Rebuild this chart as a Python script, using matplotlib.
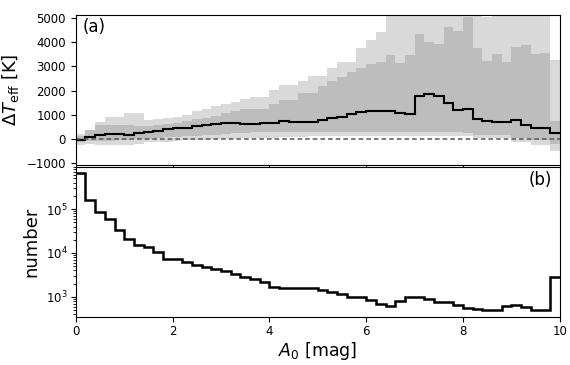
import numpy as np
import matplotlib
matplotlib.use('Agg')
import matplotlib.pyplot as plt

# == DATA ==
# extinction bins, 0.2 mag wide
edges = np.linspace(0, 10, 51)

# (a) temperature offset per bin [K]
median = [-40, 70, 165, 210, 210, 150, 250, 290, 330, 400,
          460, 460, 520, 565, 605, 650, 650, 630, 630, 660,
          660, 740, 710, 710, 710, 760, 840, 920, 1010, 1110,
          1130, 1130, 1160, 1080, 1030, 1760, 1850, 1760, 1475, 1200,
          1225, 820, 745, 700, 700, 760, 575, 460, 460, 250]
inner_hi = [120, 350, 550, 550, 550, 550, 520, 520, 580, 600,
            650, 720, 800, 870, 950, 1050, 1130, 1225, 1225, 1225,
            1430, 1620, 1620, 1890, 1890, 2170, 2390, 2550, 2760, 2950,
            3090, 3170, 3470, 3130, 3470, 4360, 4020, 3950, 4620, 4470,
            5030, 3750, 3230, 3500, 3170, 3790, 3880, 3500, 3560, 715]
inner_lo = [-130, -110, -100, -80, -60, -40, -20, 0, 30, 60,
            80, 100, 130, 150, 170, 190, 230, 250, 260, 270,
            270, 280, 280, 290, 290, 290, 290, 290, 290, 290,
            290, 290, 290, 290, 290, 290, 280, 280, 270, 260,
            250, 160, 160, 160, 160, 40, 40, -50, -50, -200]
outer_hi = [200, 360, 690, 900, 920, 1050, 1050, 780, 830, 860,
            900, 1000, 1150, 1250, 1350, 1450, 1540, 1640, 1720, 1720,
            2020, 2230, 2230, 2400, 2620, 2620, 2920, 3190, 3190, 3750,
            4100, 4430, 6000, 6000, 6000, 6000, 6000, 6000, 6000, 6000,
            6000, 6000, 5060, 6000, 6000, 6000, 6000, 6000, 6000, 3260]
outer_lo = [-250, -230, -250, -280, -280, -280, -220, -150, -130, -120,
            -80, -60, -50, -40, -30, -20, 0, 20, 30, 40,
            50, 60, 60, 80, 100, 100, 110, 120, 130, 130,
            130, 130, 130, 130, 130, 130, 130, 130, 130, 130,
            130, 50, 50, 50, 50, -120, -120, -280, -280, -500]

# (b) number of stars per bin
counts = [6.5e5, 1.6e5, 8.7e4, 6.1e4, 3.3e4, 2.1e4, 1.5e4, 1.38e4, 1.07e4, 7.3e3,
          7.3e3, 6.3e3, 5.3e3, 4.7e3, 4.2e3, 3.8e3, 3.3e3, 2.9e3, 2.5e3, 2.2e3,
          1.7e3, 1.6e3, 1.6e3, 1.6e3, 1.55e3, 1.45e3, 1.26e3, 1.15e3, 1.0e3, 1.0e3,
          850, 680, 630, 800, 980, 980, 910, 780, 780, 660,
          570, 540, 500, 500, 630, 660, 600, 500, 500, 2800]

# == FIGURE ==
fig = plt.figure(figsize=(5.7, 3.65), dpi=100)
ax1 = fig.add_axes([0.133, 0.548, 0.849, 0.412])
ax2 = fig.add_axes([0.133, 0.132, 0.849, 0.411])

ax1.stairs(outer_hi, edges, baseline=outer_lo, fill=True, color='#d9d9d9', lw=0)
ax1.stairs(inner_hi, edges, baseline=inner_lo, fill=True, color='#bdbdbd', lw=0)
ax1.axhline(0, color='#555555', ls=(0, (3, 2)), lw=1.1)
ax1.stairs(median, edges, baseline=None, color='k', lw=1.5)
ax1.set_xlim(0, 10)
ax1.set_ylim(-1090, 5150)
ax1.set_yticks(np.arange(-1000, 5001, 1000))
ax1.set_xticks(np.arange(0, 11, 2))
ax1.tick_params(labelbottom=False, labelsize=8.5)
ax1.set_ylabel(r'$\Delta T_{\rm eff}$ [K]', fontsize=13)
ax1.text(0.015, 0.975, '(a)', transform=ax1.transAxes, ha='left', va='top', fontsize=12)

ax2.stairs(counts, edges, baseline=None, color='k', lw=1.8)
ax2.set_yscale('log')
ax2.set_xlim(0, 10)
ax2.set_ylim(350, 9.2e5)
ax2.set_xticks(np.arange(0, 11, 2))
ax2.tick_params(labelsize=8.5, pad=2.5)
ax2.set_ylabel('number', fontsize=13)
ax2.set_xlabel(r'$A_0$ [mag]', fontsize=12.5, labelpad=1)
ax2.text(0.985, 0.97, '(b)', transform=ax2.transAxes, ha='right', va='top', fontsize=12)

fig.savefig('out.png', dpi=100)
